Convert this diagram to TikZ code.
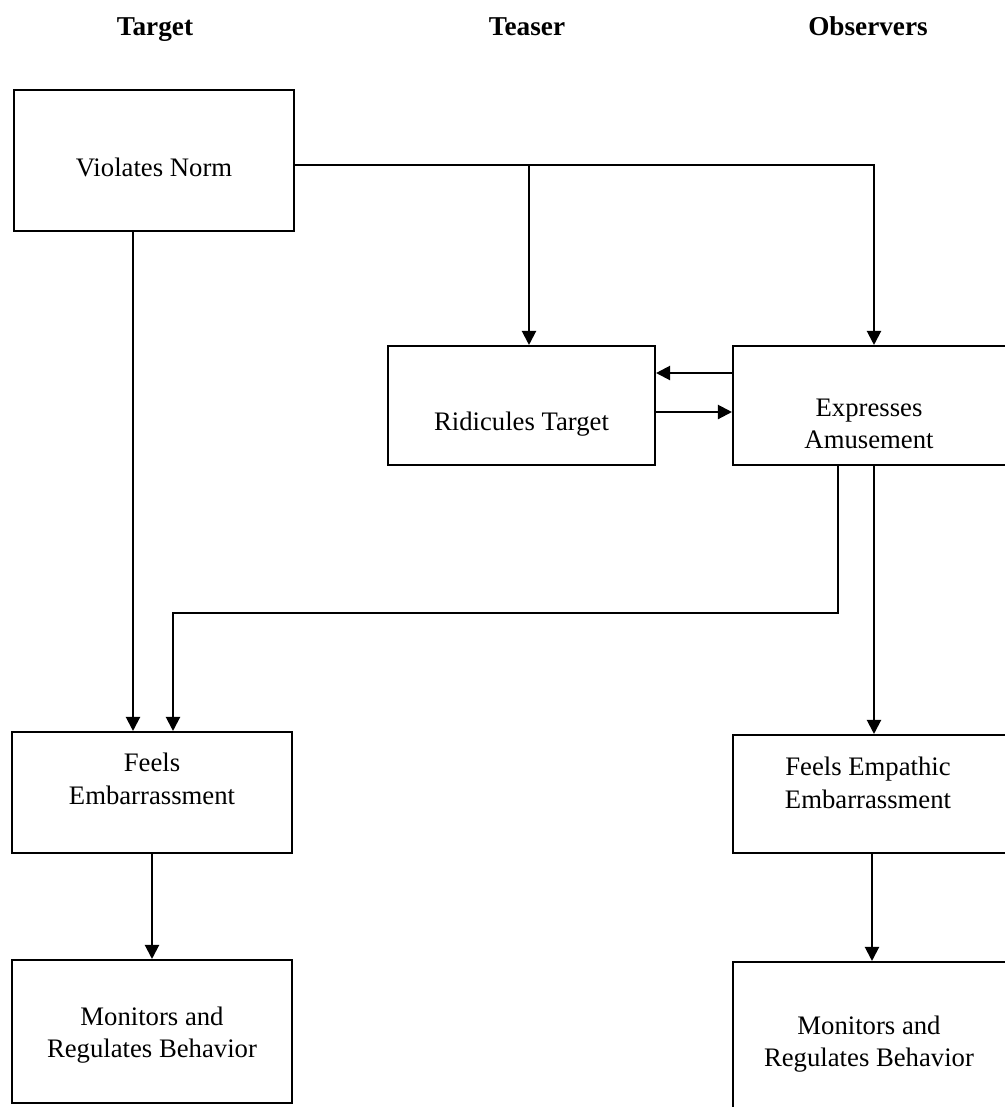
\documentclass[tikz,border=0pt]{standalone}
\usepackage{fontspec}
\setmainfont{Liberation Serif}
\usetikzlibrary{arrows.meta,positioning}

\begin{document}
\begin{tikzpicture}[x=.02cm,y=-.02cm,
    box/.style={draw,line width=1.2pt,inner sep=0pt,minimum width=5.6cm},
    txt/.style={align=center,inner sep=0pt},
    arr/.style={-{Triangle[length=8pt,width=8pt]},line width=1.2pt},
    head/.style={font=\fontsize{15.5}{18}\selectfont\bfseries,anchor=base}]
    \fontsize{15.2}{18.5}\selectfont
    \useasboundingbox (0,0) rectangle (1005,1107);
    \clip (0,0) rectangle (1005,1107);

    % column heads
    \node[head] (hTarget) at (155,35) {Target};
    \node[head] (hTeaser) at (527,35) {Teaser};
    \node[head] (hObs) at (868,35) {Observers};

    % boxes
    \node[box,minimum height=2.82cm] (vn) at (154,160.5) {};
    \node[box,minimum width=5.34cm,minimum height=2.38cm] (rt) at (521.5,405.5) {};
    \node[box,minimum width=5.54cm,minimum height=2.38cm] (ea) at (871.5,405.5) {};
    \node[box,minimum height=2.42cm] (fe) at (152,792.5) {};
    \node[box,minimum width=5.54cm,minimum height=2.36cm] (fee) at (871.5,794) {};
    \node[box,minimum height=2.86cm] (mr1) at (152,1031.5) {};
    \node[box,minimum width=5.54cm,minimum height=3.06cm] (mr2) at (871.5,1038.5) {};

    % box texts
    \node[txt] (vnT) at (154,167) {Violates Norm};
    \node[txt] (rtT) at (521.5,424) {Ridicules Target};
    \node[txt] (eaT) at (869,424) {Expresses\\ Amusement};
    \node[txt] (feT) at (152,779) {Feels\\ Embarrassment};
    \node[txt] (feeT) at (868,783) {Feels Empathic\\ Embarrassment};
    \node[txt] (mr1T) at (152,1035) {Monitors and\\ Regulates Behavior};
    \node[txt] (mr2T) at (869,1044) {Monitors and\\ Regulates Behavior};

    % helper points
    \coordinate (split) at (529,165);
    \coordinate (left) at (133,0);
    \coordinate (back) at (838,613);
    \coordinate (drop) at (173,613);
    \coordinate (obs) at (874,0);
    \coordinate (obs2) at (872,0);
    \coordinate (toT) at (0,373);
    \coordinate (toO) at (0,412);

    % connectors
    \draw[arr] (vn.east |- split) -| (obs |- ea.north);
    \draw[arr] (split) -- (split |- rt.north);
    \draw[arr] (vn.south -| left) -- (fe.north -| left);
    \draw[arr] (ea.south -| back) -- (back) -- (drop) -- (fe.north -| drop);
    \draw[arr] (ea.south -| obs) -- (fee.north -| obs);
    \draw[arr] (ea.west |- toT) -- (rt.east |- toT);
    \draw[arr] (rt.east |- toO) -- (ea.west |- toO);
    \draw[arr] (fe.south -| mr1.north) -- (mr1.north);
    \draw[arr] (fee.south -| obs2) -- (mr2.north -| obs2);
\end{tikzpicture}
\end{document}
